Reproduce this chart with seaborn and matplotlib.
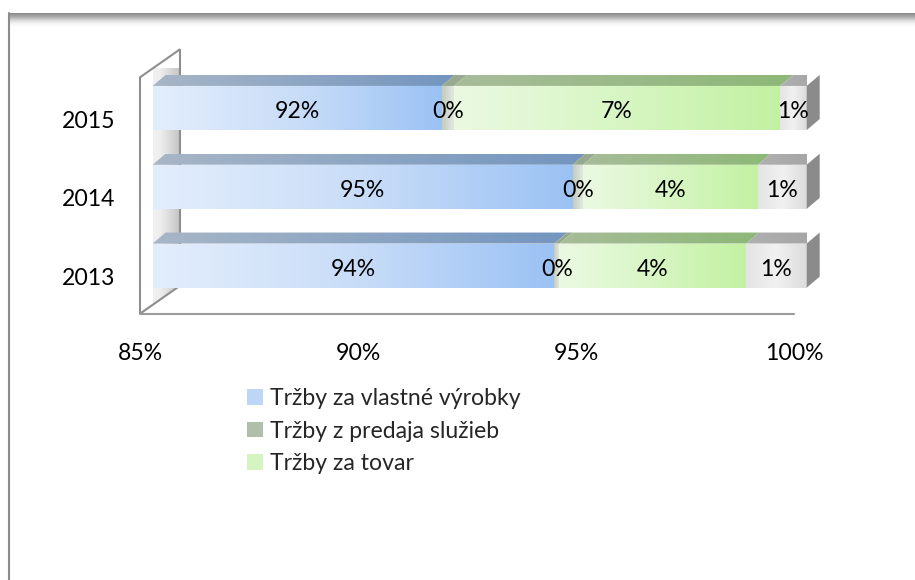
import numpy as np
import pandas as pd
import matplotlib
matplotlib.use("Agg")
import matplotlib.pyplot as plt
import matplotlib.transforms as mtransforms
import seaborn as sns
from matplotlib.colors import LinearSegmentedColormap
from matplotlib.patches import Polygon, Patch
from matplotlib.lines import Line2D

# ---------------- data ----------------
years = ["2015", "2014", "2013"]
vlastne = [91.63, 94.63, 94.21]     # Tržby za vlastné výrobky
sluzby = [0.28, 0.24, 0.12]         # Tržby z predaja služieb
tovar = [7.48, 4.01, 4.28]          # Tržby za tovar
ostatne = [0.61, 1.12, 1.39]        # ostatné (not in legend)
series_names = ["Tržby za vlastné výrobky", "Tržby z predaja služieb",
                "Tržby za tovar", "Ostatné"]
x_ticks = [85, 90, 95, 100]
x_tick_labels = ["85%", "90%", "95%", "100%"]

# ---------------- styles ----------------
FS = 16.6
front_cols = [["#e3eefc", "#c9ddf8", "#9bc2f4"],
              ["#c3ccbf", "#e6ebe3"],
              ["#ebf9e2", "#d8f6c4", "#c3f1a2"],
              ["#e4e4e4", "#f1f1f1", "#dcdcdc"]]
top_cols = [["#a8b6c6", "#7395bf"],
            ["#97aa8f", "#97aa8f"],
            ["#a8bc9a", "#8db877"],
            ["#b0b0b0", "#a4a4a4"]]
legend_cols = ["#bdd6f7", "#b0bfaa", "#d4f5bf"]
side_col = "#8b8b8b"

sns.set_theme(style="white")
plt.rcParams["font.family"] = ["Lato", "DejaVu Sans"]

W, H = 915, 580
fig = plt.figure(figsize=(W / 100, H / 100), dpi=100)
fig.patch.set_facecolor("white")
ax_left, ax_right, ax_top, ax_bot = 152.6, 806.7, 68.6, 305.0
ax = fig.add_axes([ax_left / W, 1 - ax_bot / H, (ax_right - ax_left) / W,
                   (ax_bot - ax_top) / H])
ax.set_facecolor("none")

df = pd.DataFrame({"year": years, "v": vlastne, "s": sluzby, "t": tovar, "o": ostatne})
series = [df["v"].values, df["s"].values, df["t"].values, df["o"].values]
cums = np.cumsum(np.vstack(series), axis=0)
for k in range(3, -1, -1):
    df[f"c{k}"] = cums[k]
    sns.barplot(data=df, x=f"c{k}", y="year", order=years, orient="h",
                color=front_cols[k][-1], saturation=1, width=0.56,
                linewidth=0, ax=ax, zorder=1)

ax.set_xlim(85, 100)
ax.set_ylim(2.5, -0.5)
ax.set_autoscale_on(False)
ax.set_xlabel("")
ax.set_ylabel("")
for sp in ax.spines.values():
    sp.set_visible(False)
ax.grid(False)

# pixel -> data conversions
p0 = ax.transData.transform((85, 0))
p1 = ax.transData.transform((100, 1))
sx = (p1[0] - p0[0]) / 15.0   # display px per x unit
sy = (p1[1] - p0[1])          # display px per y unit (negative)
def off(dx_px, dy_px):
    return dx_px / sx, dy_px / sy

half = 0.28
ddx, ddy = off(13, 11)

def grad_image(cols, extent, clip, z, vertical=False):
    cmap = LinearSegmentedColormap.from_list("g", cols)
    g = np.linspace(0, 1, 256)
    arr = g.reshape(-1, 1) if vertical else g.reshape(1, -1)
    im = ax.imshow(arr, cmap=cmap, extent=extent, aspect="auto",
                   interpolation="bilinear", zorder=z)
    im.set_clip_path(clip)
    im.set_clip_box(None)
    return im

# ---- back wall & floor ----
fx, fy = off(-12.6, -8.7)
bx, by = off(27.4, 19.3)
wall_pts = [(85 + fx, -0.5 + fy), (85 + bx, -0.5 + by),
            (85 + bx, 2.5 + by), (85 + fx, 2.5 + fy)]
wall_fill = Polygon(wall_pts, closed=True, facecolor="none", edgecolor="none",
                    clip_on=False, zorder=0.3)
ax.add_patch(wall_fill)
grad_image(["#f6f6f6", "#eeeeee", "#c2c2c2"],
           (85 + fx, 85 + bx, 2.5 + fy, -0.5 + by), wall_fill, 0.4)
wall_edge = Polygon(wall_pts, closed=True, facecolor="none", edgecolor="#8e8e8e",
                    lw=1.5, clip_on=False, zorder=0.5)
ax.add_patch(wall_edge)
ax.add_line(Line2D([85 + fx, 100 + fx], [2.5 + fy, 2.5 + fy], color="#9a9a9a",
                   lw=1.5, clip_on=False, zorder=0.5))

# ---- bars: front faces, top faces, side faces ----
starts = np.vstack([np.full(3, 85.0), cums[:-1]])
starts = np.maximum(starts, 85.0)
for i in range(len(years)):
    for k in range(4):
        x0, x1 = starts[k][i], cums[k][i]
        if x1 <= x0:
            continue
        front = Polygon([(x0, i - half), (x1, i - half), (x1, i + half), (x0, i + half)],
                        closed=True, facecolor="none", edgecolor="none", zorder=2)
        ax.add_patch(front)
        grad_image(front_cols[k], (x0, x1, i + half, i - half), front, 2)
        top = Polygon([(x0, i - half), (x1, i - half), (x1 + ddx, i - half + ddy),
                       (x0 + ddx, i - half + ddy)], closed=True,
                      facecolor="none", edgecolor="none", zorder=2)
        ax.add_patch(top)
        grad_image(top_cols[k], (x0, x1 + ddx, i - half, i - half + ddy), top, 2)
    xe = cums[3][i]
    ax.add_patch(Polygon([(xe, i - half), (xe + ddx, i - half + ddy),
                          (xe + ddx, i + half + ddy), (xe, i + half)], closed=True,
                         facecolor=side_col, edgecolor="none", clip_on=False, zorder=2))

# ---- data labels ----
lab_off = mtransforms.ScaledTranslation(0, -0.035, fig.dpi_scale_trans)
for i in range(len(years)):
    for k in range(4):
        x0, x1 = starts[k][i], cums[k][i]
        ax.text((x0 + x1) / 2, i, f"{round(series[k][i]):.0f}%", ha="center",
                va="center", fontsize=FS, color="black", zorder=5,
                transform=ax.transData + lab_off)

# ---- ticks ----
ax.set_xticks(x_ticks, x_tick_labels)
ax.tick_params(axis="x", length=0, pad=27, labelsize=FS, labelcolor="black")
ax.tick_params(axis="y", length=0, pad=27, labelsize=FS, labelcolor="black")
for lab in ax.get_xticklabels():
    lab.set_transform(lab.get_transform() +
                      mtransforms.ScaledTranslation(-0.126, 0, fig.dpi_scale_trans))
for lab in ax.get_yticklabels():
    lab.set_transform(lab.get_transform() +
                      mtransforms.ScaledTranslation(0, -0.11, fig.dpi_scale_trans))

# ---- legend ----
handles = [Patch(facecolor=c, edgecolor="none") for c in legend_cols]
fig.legend(handles, series_names[:3], loc="upper left",
           bbox_to_anchor=(247 / W, 1 - 388 / H), frameon=False, fontsize=FS,
           handlelength=0.68, handleheight=0.68, handletextpad=0.33,
           labelspacing=0.5, borderpad=0, borderaxespad=0)

# ---- outer frame ----
fig.add_artist(Line2D([8.5 / W, 8.5 / W], [0, 1 - 13 / H], color="#8c8c8c",
                      lw=1.5, transform=fig.transFigure))
sh = fig.add_axes([8 / W, 1 - 27 / H, 907 / W, 14 / H])
sh.imshow(np.linspace(0, 1, 64).reshape(-1, 1), aspect="auto",
          cmap=LinearSegmentedColormap.from_list(
              "s", ["#8a8a8a", "#a8a8a8", "#d6d6d6", "#f4f4f4", "#ffffff"]),
          interpolation="bilinear")
sh.axis("off")

fig.savefig("out.png", dpi=100, facecolor="white")
